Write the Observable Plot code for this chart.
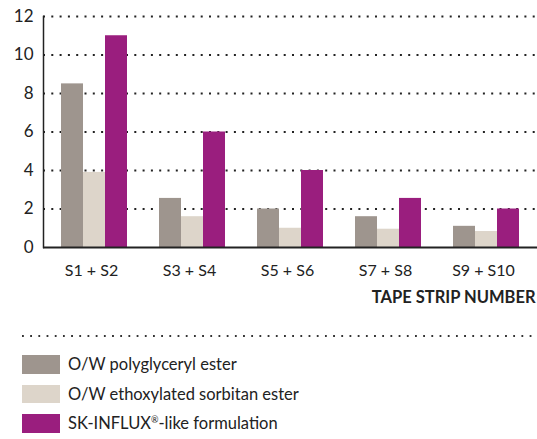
<!DOCTYPE html>
<html>
<head>
<meta charset="utf-8">
<script src="https://cdn.jsdelivr.net/npm/d3@7"></script>
<script src="https://cdn.jsdelivr.net/npm/@observablehq/plot@0.6"></script>
<style>
  html, body { margin: 0; padding: 0; background: #fff; }
  #wrap { position: relative; width: 537px; height: 439px; font-family: Lato, "Open Sans", sans-serif; color: #222; }
  #chart svg { display: block; }
  #sep { position: absolute; left: 22px; top: 335px; width: 515px; height: 2px;
         background: linear-gradient(to right, #333 2px, transparent 2px) 0 0 / 8.2px 2px repeat-x; }
  #legend { position: absolute; left: 22px; top: 355px; }
  .row { display: flex; align-items: center; height: 18.5px; margin-bottom: 11px; font-size: 16.5px; }
  .sw { width: 38px; height: 18.5px; margin-right: 8px; flex: none; }
</style>
</head>
<body>
<div id="wrap">
  <div id="chart"></div>
  <div id="sep"></div>
  <div id="legend"></div>
</div>
<script>
const groups = ["S1 + S2", "S3 + S4", "S5 + S6", "S7 + S8", "S9 + S10"];
const seriesNames = ["O/W polyglyceryl ester", "O/W ethoxylated sorbitan ester", "SK-INFLUX®-like formulation"];
const polyglyceryl = [8.5, 2.55, 2.0, 1.6, 1.1];
const sorbitan = [3.9, 1.6, 1.0, 0.95, 0.83];
const skinflux = [11, 6, 4, 2.55, 2.0];
const colors = ["#9e958e", "#ddd5ca", "#9a1e7e"];
const yTicks = [0, 2, 4, 6, 8, 10, 12];
const gridTicks = [2, 4, 6, 8, 10, 12];
const axisTitle = "TAPE STRIP NUMBER";

const seriesValues = [polyglyceryl, sorbitan, skinflux];
const data = seriesNames.flatMap((s, i) => groups.map((g, j) => ({group: g, series: s, value: seriesValues[i][j]})));

const chart = Plot.plot({
  width: 537,
  height: 320,
  marginLeft: 43,
  marginRight: 0,
  marginTop: 16,
  marginBottom: 73,
  style: {fontFamily: "Lato, 'Open Sans', sans-serif", color: "#222", background: "#fff"},
  x: {domain: groups, paddingInner: 0.33, paddingOuter: 0.17, axis: null},
  y: {domain: [0, 12], axis: null},
  marks: [
    Plot.ruleY(gridTicks, {y: d => d, stroke: "#222", strokeWidth: 2, strokeDasharray: "2,6.3", strokeOpacity: 1}),
    ...seriesNames.map((s, i) => Plot.barY(data.filter(d => d.series === s), {
      x: "group", y: "value", fill: colors[i], insetLeft: 22, insetRight: 22, dx: (i - 1) * 22
    })),
    Plot.frame({anchor: "left", stroke: "#222", strokeWidth: 1.5}),
    Plot.ruleY([0], {stroke: "#222", strokeWidth: 2}),
    Plot.axisY({ticks: yTicks, tickSize: 0, tickPadding: 10, fontSize: 17, tickFormat: d => d, label: null}),
    Plot.axisX({tickSize: 0, tickPadding: 17, fontSize: 16, label: null, dx: -3}),
    Plot.text([axisTitle], {frameAnchor: "bottom-right", dy: 55, dx: -2, textAnchor: "end", fontWeight: "bold", fontSize: 16.5, fill: "#222"})
  ]
});
document.getElementById("chart").appendChild(chart);

const legend = document.getElementById("legend");
seriesNames.forEach((s, i) => {
  const row = document.createElement("div");
  row.className = "row";
  const sw = document.createElement("div");
  sw.className = "sw";
  sw.style.background = colors[i];
  const label = document.createElement("span");
  if (s.includes("®")) {
    const [a, b] = s.split("®");
    label.innerHTML = a + '<sup style="font-size:9px;vertical-align:6px;line-height:0">®</sup>' + b;
  } else {
    label.textContent = s;
  }
  row.appendChild(sw);
  row.appendChild(label);
  legend.appendChild(row);
});
</script>
</body>
</html>
